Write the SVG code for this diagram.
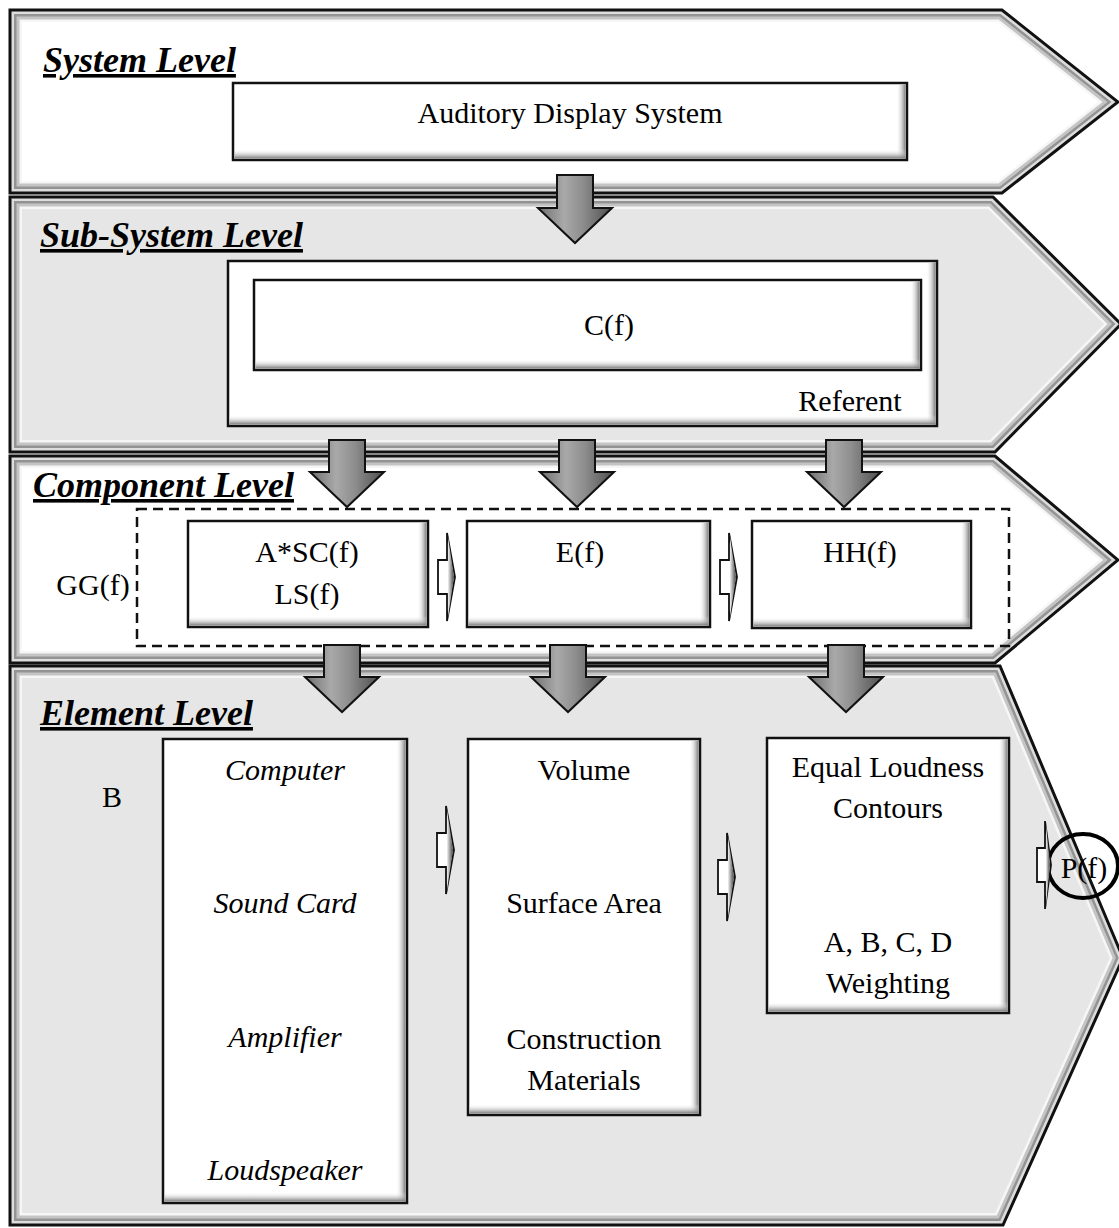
<svg xmlns="http://www.w3.org/2000/svg" xmlns:xlink="http://www.w3.org/1999/xlink" width="1119" height="1228" viewBox="0 0 1119 1228">
<style>
.bandW{fill:#ffffff;stroke:none}
.bandG{fill:#e6e6e6;stroke:none}
.bv1{fill:none;stroke:#f6f6f6;stroke-width:24}
.bv2{fill:none;stroke:#c4c4c4;stroke-width:19}
.bv3{fill:none;stroke:#939393;stroke-width:13}
.bv4{fill:none;stroke:#dddddd;stroke-width:8}
.edge{fill:none;stroke:#111;stroke-width:3;stroke-linejoin:miter}
.box{fill:#ffffff;stroke:#111;stroke-width:2.5}
.sR{fill:url(#gR)}
.sB{fill:url(#gB)}
.dash{fill:none;stroke:#111;stroke-width:2.5;stroke-dasharray:10 6}
.head{font-family:"Liberation Serif",serif;font-size:36px;font-weight:bold;font-style:italic;text-decoration:underline;fill:#000}
.t{font-family:"Liberation Serif",serif;font-size:30px;text-anchor:middle;fill:#000}
.ti{font-family:"Liberation Serif",serif;font-size:30px;font-style:italic;text-anchor:middle;fill:#000}
.darr{fill:url(#gA);stroke:#111;stroke-width:2;stroke-linejoin:miter}
.sarr{fill:#ffffff;stroke:#111;stroke-width:1.8;stroke-linejoin:miter}
.shead{fill:url(#gH);stroke:none}
.circ{fill:none;stroke:#000;stroke-width:4}
</style>
<defs>
<polygon id="s1" points="10,10 1002,10 1118,102 1002,193 10,193"/>
<polygon id="s2" points="10,197 993,197 1121,324 995,452 10,452"/>
<polygon id="s3" points="10,456 995,456 1118,560 995,663 10,663"/>
<polygon id="s4" points="10,666 1000,666 1123,958 1003,1225 10,1225"/>
<clipPath id="c1"><use href="#s1"/></clipPath>
<clipPath id="c2"><use href="#s2"/></clipPath>
<clipPath id="c3"><use href="#s3"/></clipPath>
<clipPath id="c4"><use href="#s4"/></clipPath>
<linearGradient id="gR" x1="0" y1="0" x2="1" y2="0"><stop offset="0" stop-color="#ffffff" stop-opacity="0"/><stop offset="1" stop-color="#7a7a7a"/></linearGradient>
<linearGradient id="gB" x1="0" y1="0" x2="0" y2="1"><stop offset="0" stop-color="#ffffff" stop-opacity="0"/><stop offset="1" stop-color="#7a7a7a"/></linearGradient>
<linearGradient id="gA" x1="0" y1="0" x2="1" y2="0"><stop offset="0" stop-color="#6e6e6e"/><stop offset="0.35" stop-color="#a9a9a9"/><stop offset="0.6" stop-color="#8e8e8e"/><stop offset="1" stop-color="#4e4e4e"/></linearGradient>
<linearGradient id="gH" x1="0" y1="0" x2="1" y2="0"><stop offset="0" stop-color="#f2f2f2"/><stop offset="1" stop-color="#444444"/></linearGradient>
</defs>

<g id="level-system">
<use href="#s1" class="bandW"/>
<g clip-path="url(#c1)"><use href="#s1" class="bv1"/><use href="#s1" class="bv2"/><use href="#s1" class="bv3"/><use href="#s1" class="bv4"/></g>
<use href="#s1" class="edge"/>
<text class="head" x="43" y="72">System Level</text>
</g>

<g id="level-subsystem">
<use href="#s2" class="bandG"/>
<g clip-path="url(#c2)"><use href="#s2" class="bv1"/><use href="#s2" class="bv2"/><use href="#s2" class="bv3"/><use href="#s2" class="bv4"/></g>
<use href="#s2" class="edge"/>
<text class="head" x="40" y="247">Sub-System Level</text>
</g>

<g id="level-component">
<use href="#s3" class="bandW"/>
<g clip-path="url(#c3)"><use href="#s3" class="bv1"/><use href="#s3" class="bv2"/><use href="#s3" class="bv3"/><use href="#s3" class="bv4"/></g>
<use href="#s3" class="edge"/>
<text class="head" x="33" y="497">Component Level</text>
</g>

<g id="level-element">
<use href="#s4" class="bandG"/>
<g clip-path="url(#c4)"><use href="#s4" class="bv1"/><use href="#s4" class="bv2"/><use href="#s4" class="bv3"/><use href="#s4" class="bv4"/></g>
<use href="#s4" class="edge"/>
<text class="head" x="40" y="725">Element Level</text>
</g>

<g id="node-auditory-display-system">
<rect class="box" x="233" y="83" width="674" height="77"/>
<rect class="sR" x="896" y="84.5" width="9.5" height="74"/>
<rect class="sB" x="234.5" y="149" width="671" height="9.5"/>
<text class="t" x="570" y="123">Auditory Display System</text>
</g>

<g id="node-referent">
<rect class="box" x="228" y="261" width="709" height="165"/>
<rect class="sR" x="926" y="262.5" width="9.5" height="162"/>
<rect class="sB" x="229.5" y="415" width="706" height="9.5"/>
<text class="t" x="850" y="411">Referent</text>
</g>

<g id="node-cf">
<rect class="box" x="254" y="280" width="667" height="90"/>
<rect class="sR" x="910" y="281.5" width="9.5" height="87"/>
<rect class="sB" x="255.5" y="359" width="664" height="9.5"/>
<text class="t" x="609" y="335">C(f)</text>
</g>

<g id="node-gg">
<rect class="dash" x="137" y="509" width="872" height="137"/>
<text class="t" x="93" y="595">GG(f)</text>
</g>

<g id="node-asc-ls">
<rect class="box" x="188" y="521" width="240" height="106"/>
<rect class="sR" x="417" y="522.5" width="9.5" height="103"/>
<rect class="sB" x="189.5" y="616" width="237" height="9.5"/>
<text class="t" x="307" y="562">A*SC(f)</text>
<text class="t" x="307" y="604">LS(f)</text>
</g>

<g id="node-ef">
<rect class="box" x="467" y="521" width="243" height="106"/>
<rect class="sR" x="699" y="522.5" width="9.5" height="103"/>
<rect class="sB" x="468.5" y="616" width="240" height="9.5"/>
<text class="t" x="580" y="562">E(f)</text>
</g>

<g id="node-hhf">
<rect class="box" x="752" y="521" width="219" height="107"/>
<rect class="sR" x="960" y="522.5" width="9.5" height="104"/>
<rect class="sB" x="753.5" y="617" width="216" height="9.5"/>
<text class="t" x="860" y="562">HH(f)</text>
</g>

<g id="node-b">
<text class="t" x="112" y="807">B</text>
</g>

<g id="node-hardware">
<rect class="box" x="163" y="739" width="244" height="464"/>
<rect class="sR" x="396" y="740.5" width="9.5" height="461"/>
<rect class="sB" x="164.5" y="1192" width="241" height="9.5"/>
<text class="ti" x="285" y="780">Computer</text>
<text class="ti" x="285" y="913">Sound Card</text>
<text class="ti" x="285" y="1047">Amplifier</text>
<text class="ti" x="285" y="1180">Loudspeaker</text>
</g>

<g id="node-room">
<rect class="box" x="468" y="739" width="232" height="376"/>
<rect class="sR" x="689" y="740.5" width="9.5" height="373"/>
<rect class="sB" x="469.5" y="1104" width="229" height="9.5"/>
<text class="t" x="584" y="780">Volume</text>
<text class="t" x="584" y="913">Surface Area</text>
<text class="t" x="584" y="1049">Construction</text>
<text class="t" x="584" y="1090">Materials</text>
</g>

<g id="node-hearing">
<rect class="box" x="767" y="738" width="242" height="275"/>
<rect class="sR" x="998" y="739.5" width="9.5" height="272"/>
<rect class="sB" x="768.5" y="1002" width="239" height="9.5"/>
<text class="t" x="888" y="777">Equal Loudness</text>
<text class="t" x="888" y="818">Contours</text>
<text class="t" x="888" y="952">A, B, C, D</text>
<text class="t" x="888" y="993">Weighting</text>
</g>

<g id="node-pf">
<ellipse class="circ" cx="1083" cy="866" rx="35" ry="32"/>
<text class="t" x="1084" y="878">P(f)</text>
</g>

<g id="connectors">
<polygon class="darr" points="557,175 593,175 593,208 612,208 575,243 538,208 557,208"/>
<polygon class="darr" points="329,440 365,440 365,472 384,472 347,507 310,472 329,472"/>
<polygon class="darr" points="559,440 595,440 595,472 614,472 577,507 540,472 559,472"/>
<polygon class="darr" points="826,440 862,440 862,472 881,472 844,507 807,472 826,472"/>
<polygon class="darr" points="324,645 360,645 360,677 379,677 342,712 305,677 324,677"/>
<polygon class="darr" points="550,645 586,645 586,677 605,677 568,712 531,677 550,677"/>
<polygon class="darr" points="828,645 864,645 864,677 883,677 846,712 809,677 828,677"/>

<polygon class="sarr" points="438,560 447,560 447,533 455,577 447,621 447,594 438,594"/>
<polygon class="shead" points="448,537 454,577 448,617"/>
<polygon class="sarr" points="720,560 729,560 729,533 737,577 729,621 729,594 720,594"/>
<polygon class="shead" points="730,537 736,577 730,617"/>

<polygon class="sarr" points="437,833 446,833 446,806 454,850 446,894 446,867 437,867"/>
<polygon class="shead" points="447,810 453,850 447,890"/>
<polygon class="sarr" points="718,860 727,860 727,833 735,877 727,921 727,894 718,894"/>
<polygon class="shead" points="728,837 734,877 728,917"/>
<polygon class="sarr" points="1037,848 1045,848 1045,821 1051,865 1045,909 1045,882 1037,882"/>
<polygon class="shead" points="1046,825 1050,865 1046,905"/>
</g>
</svg>
